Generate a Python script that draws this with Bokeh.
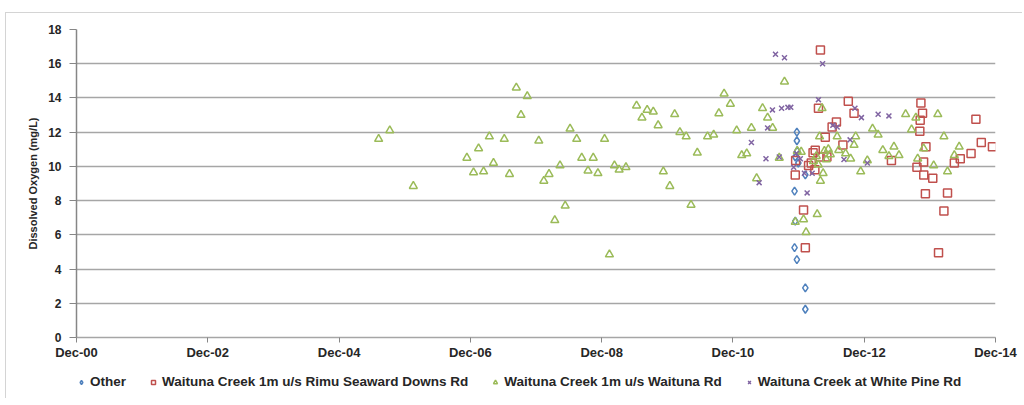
import pandas as pd
from bokeh.plotting import figure
from bokeh.layouts import column
from bokeh.models import (ColumnDataSource, FixedTicker, DatetimeTickFormatter,
                          Legend, LegendItem, Range1d)
from bokeh.embed import file_html
from bokeh.resources import INLINE

# ---------------- data ----------------
other_dates = ["2011-11-22", "2011-11-22", "2011-11-13", "2011-11-09", "2011-11-13",
               "2011-11-09", "2011-11-22", "2012-01-08", "2012-01-08", "2012-01-08",
               "2011-11-24", "2011-11-30"]
other_do = [12.0, 11.5, 10.55, 8.55, 6.8, 5.25, 4.55, 2.9, 1.65, 9.5, 10.9, 10.2]

rimu_dates = ["2012-04-01", "2012-09-03", "2012-10-05", "2012-03-21", "2012-06-29",
              "2012-06-05", "2012-04-28", "2012-08-04", "2012-03-03", "2011-11-13",
              "2011-11-15", "2012-01-26", "2012-03-01", "2012-05-07", "2012-03-30",
              "2011-12-29", "2012-01-08", "2013-05-01", "2013-10-12", "2013-10-21",
              "2013-10-08", "2013-10-06", "2013-11-09", "2013-09-20", "2013-10-27",
              "2013-10-28", "2013-12-17", "2013-11-06", "2014-03-09", "2014-02-17",
              "2014-01-18", "2014-04-16", "2014-05-19", "2014-07-18", "2014-09-13",
              "2014-11-14", "2014-08-14", "2012-02-10", "2012-02-20"]
rimu_do = [16.8, 13.8, 13.1, 13.4, 12.6, 12.3, 11.7, 11.25, 10.95, 9.5,
           10.35, 10.05, 9.8, 10.55, 10.55, 7.45, 5.25, 10.35, 13.7, 13.1,
           12.7, 12.05, 11.15, 9.95, 10.25, 9.5, 9.3, 8.4, 8.45, 7.4,
           4.95, 10.2, 10.45, 10.75, 11.4, 11.15, 12.75, 10.2, 10.8]

waituna_dates = ["2005-07-09", "2005-09-09", "2006-01-18", "2006-11-12", "2007-01-16",
                 "2006-12-19", "2007-02-13", "2007-03-17", "2007-04-09", "2007-06-08",
                 "2007-07-07", "2007-08-14", "2007-10-14", "2007-09-09", "2007-12-17",
                 "2008-01-14", "2008-02-12", "2008-03-15", "2008-04-13", "2008-05-12",
                 "2008-06-08", "2008-07-15", "2008-08-12", "2008-09-16", "2008-10-15",
                 "2008-11-10", "2008-12-17", "2009-01-13", "2009-02-10", "2009-03-08",
                 "2009-04-15", "2009-06-13", "2009-07-13", "2009-08-11", "2009-09-14",
                 "2009-10-11", "2009-11-09", "2009-12-15", "2010-01-11", "2010-02-09",
                 "2010-03-16", "2010-04-12", "2010-05-17", "2010-07-13", "2010-08-16",
                 "2010-09-14", "2010-10-13", "2010-11-17", "2010-12-22", "2011-01-19",
                 "2011-02-16", "2011-03-14", "2011-04-12", "2011-05-15", "2011-06-12",
                 "2011-07-10", "2011-08-16", "2011-09-14", "2011-11-13", "2011-11-24",
                 "2011-12-16", "2011-12-29", "2012-01-12", "2012-03-14", "2012-04-01",
                 "2012-04-10", "2012-03-27", "2012-04-16", "2012-02-22", "2012-03-09",
                 "2012-04-23", "2012-05-04", "2012-05-15", "2012-05-26", "2012-03-20",
                 "2012-07-03", "2012-07-12", "2012-08-19", "2012-09-16", "2012-10-05",
                 "2012-10-14", "2012-11-11", "2012-12-18", "2013-01-16", "2013-02-16",
                 "2013-03-14", "2013-04-17", "2013-05-15", "2013-06-12", "2013-07-19",
                 "2013-08-21", "2013-09-14", "2013-09-24", "2013-10-27", "2013-12-22",
                 "2014-01-14", "2014-02-17", "2014-03-09", "2014-04-16", "2014-05-13"]
waituna_do = [11.6, 12.1, 8.85, 10.5, 11.05, 9.65, 9.7, 11.75, 10.2, 11.6,
              9.55, 14.6, 14.1, 13.0, 11.5, 9.15, 9.55, 6.85, 10.05, 7.7,
              12.2, 11.6, 10.5, 9.75, 10.5, 9.6, 11.6, 4.85, 10.05, 9.8,
              9.95, 13.55, 12.85, 13.3, 13.2, 12.4, 9.7, 8.85, 13.05, 12.0,
              11.75, 7.75, 10.8, 11.75, 11.85, 13.1, 14.25, 13.65, 12.1, 10.65,
              10.75, 12.25, 9.3, 13.4, 12.85, 12.25, 10.5, 14.95, 6.75, 10.9,
              10.85, 6.9, 6.15, 7.2, 9.15, 13.4, 11.75, 9.6, 10.3, 10.6,
              10.9, 10.4, 11.0, 10.7, 10.1, 11.75, 10.95, 10.75, 10.45, 11.25,
              11.75, 9.7, 10.35, 12.2, 11.85, 10.95, 10.6, 11.15, 10.65, 13.05,
              12.15, 12.85, 10.45, 11.05, 10.05, 13.05, 11.75, 9.7, 10.65, 11.15]

whitepine_dates = ["2011-07-26", "2011-09-14", "2012-04-13", "2012-03-21", "2011-07-09",
                   "2011-08-29", "2011-10-03", "2011-10-19", "2011-06-12", "2011-03-14",
                   "2011-06-03", "2011-08-16", "2011-04-26", "2011-11-04", "2011-11-19",
                   "2011-12-11", "2012-01-03", "2012-01-18", "2012-02-15", "2012-06-09",
                   "2012-07-03", "2012-09-13", "2012-08-10", "2012-10-10", "2012-11-15",
                   "2012-12-18", "2013-02-16", "2013-04-17"]
whitepine_do = [16.55, 16.35, 16.0, 13.9, 13.3, 13.4, 13.45, 13.45, 12.25, 11.4,
                10.45, 10.55, 9.05, 9.95, 10.75, 10.45, 9.6, 8.45, 9.6, 12.4,
                12.3, 11.55, 10.4, 13.4, 12.85, 10.2, 13.05, 12.95]

series_names = ["Other",
                "Waituna Creek 1m u/s Rimu Seaward Downs Rd",
                "Waituna Creek 1m u/s Waituna Rd",
                "Waituna Creek at White Pine Rd"]
series_colors = ["#4f81bd", "#c0504d", "#9bbb59", "#8064a2"]
tick_dates = ["2000-12-01", "2002-12-01", "2004-12-01", "2006-12-01",
              "2008-12-01", "2010-12-01", "2012-12-01", "2014-12-01"]
y_ticks = [0, 2, 4, 6, 8, 10, 12, 14, 16, 18]

# ---------------- main figure ----------------
FONT = "Liberation Sans"
TXT = "#262626"
tick_ms = [pd.Timestamp(d).value / 1e6 for d in tick_dates]
x_range = Range1d(tick_ms[0], tick_ms[-1])

p = figure(width=1016, height=352, x_axis_type="datetime",
           output_backend="svg", toolbar_location=None,
           x_range=x_range, y_range=Range1d(0, 18),
           min_border_left=70, min_border_right=27, min_border_top=16,
           min_border_bottom=28, outline_line_color=None,
           background_fill_color="white", border_fill_color="white")

p.xgrid.visible = False
p.ygrid.grid_line_color = "#a6a6a6"
p.ygrid.grid_line_width = 1.5
p.yaxis.ticker = FixedTicker(ticks=y_ticks)
p.xaxis.ticker = FixedTicker(ticks=tick_ms)
fmt = "%b-%y"
p.xaxis.formatter = DatetimeTickFormatter(years=fmt, months=fmt, days=fmt,
                                          hours=fmt, minutes=fmt, seconds=fmt,
                                          milliseconds=fmt, microseconds=fmt,
                                          hourmin=fmt, minsec=fmt)

for ax in (p.xaxis[0], p.yaxis[0]):
    ax.axis_line_color = "#868686"
    ax.axis_line_width = 1.5
    ax.major_tick_line_color = "#868686"
    ax.minor_tick_line_color = None
    ax.major_tick_in = 0
    ax.major_label_text_font = FONT
    ax.major_label_text_font_style = "bold"
    ax.major_label_text_color = TXT
p.xaxis.major_label_text_font_size = "13px"
p.yaxis.major_label_text_font_size = "12px"
p.xaxis.major_tick_out = 5
p.xaxis.major_label_standoff = 2
p.yaxis.major_tick_out = 7
p.yaxis.major_label_standoff = 8
p.xaxis.axis_line_color = "#a6a6a6"
p.yaxis.axis_label = "Dissolved Oxygen (mg/L)"
p.yaxis.axis_label_text_font = FONT
p.yaxis.axis_label_text_font_size = "11px"
p.yaxis.axis_label_text_font_style = "bold"
p.yaxis.axis_label_text_color = TXT
p.yaxis.axis_label_standoff = 6

marker_styles = [dict(marker="diamond", size=8), dict(marker="square", size=8),
                 dict(marker="triangle", size=8), dict(marker="x", size=7)]
all_dates = [other_dates, rimu_dates, waituna_dates, whitepine_dates]
all_vals = [other_do, rimu_do, waituna_do, whitepine_do]
sources = [ColumnDataSource(dict(x=pd.to_datetime(d), y=v))
           for d, v in zip(all_dates, all_vals)]
for s, c, m in zip(sources, series_colors, marker_styles):
    p.scatter("x", "y", source=s, fill_color=None, line_color=c,
              line_width=1.5, **m)

# ---------------- legend strip (below the chart) ----------------
# same sources, but a y-range that shows none of the points: only the legend is seen
lg = figure(width=1016, height=33, output_backend="svg", toolbar_location=None,
            x_axis_type="datetime", x_range=x_range, y_range=Range1d(100, 101),
            x_axis_location=None, y_axis_location=None,
            min_border_left=70, min_border_right=0, min_border_top=9,
            min_border_bottom=0, outline_line_color=None,
            background_fill_color="white", border_fill_color="white")
lg.grid.visible = False
items = []
for n, s, c, m in zip(series_names, sources, series_colors, marker_styles):
    r = lg.scatter("x", "y", source=s, fill_color=None, line_color=c,
                   line_width=1.5, **m)
    items.append(LegendItem(label=n, renderers=[r]))
legend = Legend(items=items, orientation="horizontal", location="top_left",
                margin=0, padding=0,
                label_text_font=FONT, label_text_font_size="13.5px",
                label_text_font_style="bold", label_text_color=TXT,
                glyph_width=10, glyph_height=10,
                label_standoff=4, spacing=22,
                border_line_color=None, background_fill_alpha=0)
lg.add_layout(legend, "center")

layout = column(p, lg, spacing=0)
layout.margin = (12, 0, 0, 5)
layout.styles = {"border-top": "1px solid #d4d4d4", "border-left": "1px solid #d4d4d4"}
open("out.html", "w").write(file_html(layout, INLINE))
